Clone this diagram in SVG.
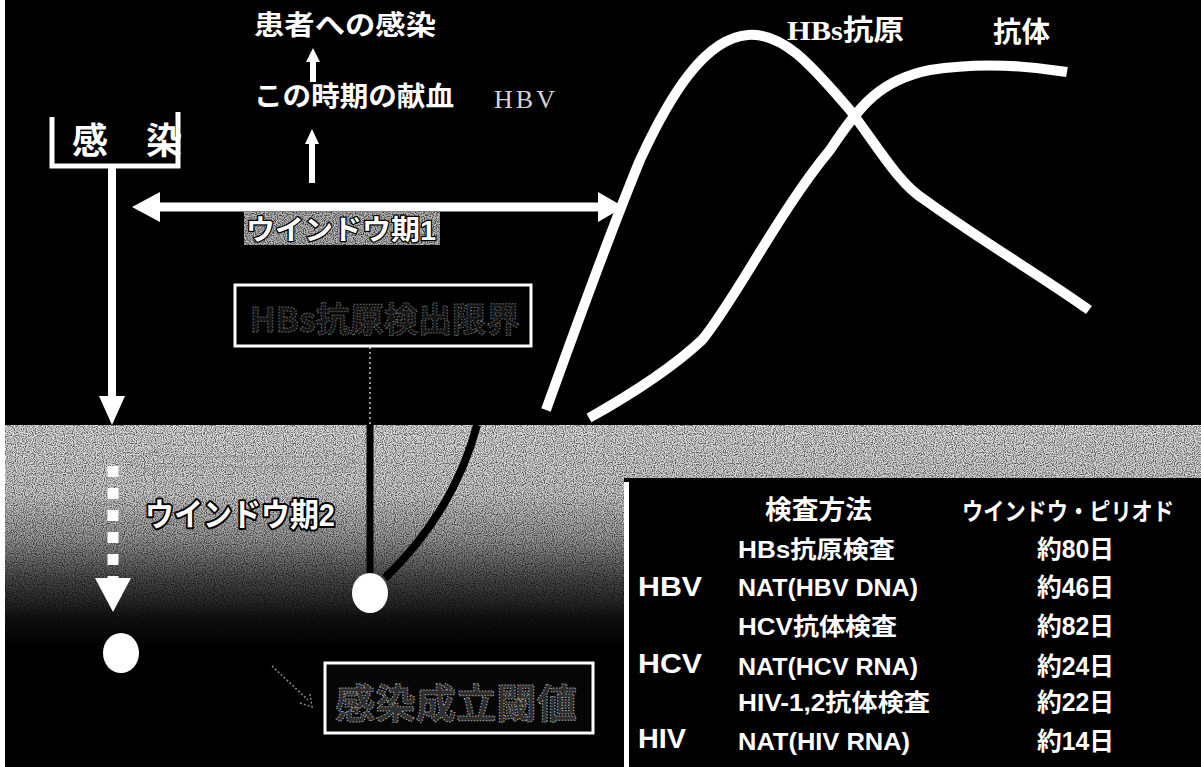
<svg xmlns="http://www.w3.org/2000/svg" width="1201" height="767" viewBox="0 0 1201 767">
<defs>
<style>
.jp{font-family:"Liberation Sans","Noto Sans CJK JP",sans-serif;font-weight:bold;fill:#fff}
.ser{font-family:"Liberation Serif","Noto Sans CJK JP",serif}
.curve{fill:none;stroke:#fff;stroke-width:10;stroke-linecap:butt}
.wline{stroke:#fff;fill:none}
.outl{paint-order:stroke;stroke:#000;stroke-linejoin:round}
.faint{fill:none;stroke:#8a8a8a;stroke-width:1.5;stroke-dasharray:2 2}
.ghost{font-family:"Noto Sans CJK JP",sans-serif;font-weight:bold;stroke-width:1;stroke-dasharray:1.5 1.5}
</style>
<linearGradient id="band" x1="0" y1="425" x2="0" y2="767" gradientUnits="userSpaceOnUse">
<stop offset="0" stop-color="#dedede"/>
<stop offset="0.2" stop-color="#cfcfcf"/>
<stop offset="0.33" stop-color="#9a9a9a"/>
<stop offset="0.45" stop-color="#4a4a4a"/>
<stop offset="0.56" stop-color="#141414"/>
<stop offset="0.66" stop-color="#000"/>
<stop offset="1" stop-color="#000"/>
</linearGradient>
<filter id="noise" x="0" y="0" width="100%" height="100%">
<feTurbulence type="fractalNoise" baseFrequency="0.9" numOctaves="1" seed="4" result="t"/>
<feColorMatrix in="t" type="matrix" values="0 0 0 0 0  0 0 0 0 0  0 0 0 0 0  3.2 0 0 0 -1.3"/>
</filter>
</defs>

<!-- background -->
<rect x="0" y="0" width="1201" height="767" fill="#000"/>
<rect x="5" y="425" width="1196" height="342" fill="url(#band)"/>
<rect x="5" y="425" width="1196" height="342" filter="url(#noise)" opacity="0.6"/>
<rect x="624" y="478" width="577" height="289" fill="#000"/>
<line x1="626.5" y1="482" x2="626.5" y2="767" stroke="#fff" stroke-width="5"/>
<rect x="0" y="0" width="5" height="767" fill="#fff"/>

<!-- connectors -->
<g id="connectors">
  <path class="curve" d="M546,410 C575,330 605,245 640,160 C670,95 705,38 748,35 C785,32 815,70 850,110 C880,150 900,185 925,200 C980,240 1040,275 1089,310"/>
  <path class="curve" d="M589,418 C630,395 670,370 702,340 C735,300 780,210 830,150 C860,105 880,80 930,70 C980,62 1030,66 1067,72"/>
  <polyline class="wline" stroke-width="5" points="52,117 52,166 178,166 178,112"/>
  <line class="wline" x1="112" y1="168" x2="112" y2="398" stroke-width="8"/>
  <polygon points="99,396 125,396 112,425" fill="#fff"/>
  <line class="wline" x1="313" y1="82" x2="313" y2="60" stroke-width="6"/>
  <polygon points="306,62 320,62 313,48" fill="#fff"/>
  <line class="wline" x1="312" y1="183" x2="312" y2="142" stroke-width="6"/>
  <polygon points="305,144 319,144 312,129" fill="#fff"/>
  <line class="wline" x1="158" y1="207" x2="600" y2="207" stroke-width="9"/>
  <polygon points="132,207 160,192 160,222" fill="#fff"/>
  <polygon points="624,207 598,192 598,222" fill="#fff"/>
  <line x1="370" y1="347" x2="370" y2="425" stroke="#9a9a9a" stroke-width="2" stroke-dasharray="2 3"/>
  <line x1="370" y1="425" x2="370" y2="578" stroke="#000" stroke-width="7"/>
  <path d="M477,425 C465,470 440,525 385,578" fill="none" stroke="#000" stroke-width="8"/>
  <path class="faint" d="M130,462 L158,450 L158,457 L328,457 L328,450 L356,462 L328,474 L328,467 L158,467 L158,474 Z"/>
  <line x1="113" y1="466" x2="113" y2="578" stroke="#fff" stroke-width="11" stroke-dasharray="11 11"/>
  <polygon points="95,578 131,578 113,612" fill="#fff"/>
  <path class="faint" d="M272,666 L308,700 M300,703 L312,707 L310,694"/>
</g>

<!-- nodes -->
<g id="patient-infection">
  <text class="jp" x="254" y="35" font-size="27" textLength="182" lengthAdjust="spacingAndGlyphs">患者への感染</text>
</g>
<g id="donation">
  <text class="jp" x="254" y="106" font-size="27" textLength="200" lengthAdjust="spacingAndGlyphs">この時期の献血</text>
</g>
<g id="hbv-label">
  <text class="ser" x="494" y="108" font-size="26" fill="#d4d4d4" textLength="61" lengthAdjust="spacing">HBV</text>
</g>
<g id="infection">
  <text class="jp" x="72" y="154" font-size="36" textLength="110" lengthAdjust="spacing" xml:space="preserve">感 染</text>
</g>
<g id="window1">
  <rect x="244" y="212" width="196" height="33" fill="#b8b8b8"/>
  <rect x="244" y="212" width="196" height="33" filter="url(#noise)" opacity="0.7"/>
  <text class="jp outl" x="246" y="240" font-size="28" stroke-width="2.5" textLength="190" lengthAdjust="spacingAndGlyphs">ウインドウ期1</text>
</g>
<g id="detection-limit">
  <rect x="235" y="285" width="296" height="61" fill="#000" stroke="#fff" stroke-width="3"/>
  <text class="ghost" x="250" y="332" font-size="34" fill="#141414" stroke="#707070" textLength="270" lengthAdjust="spacingAndGlyphs">HBs抗原検出限界</text>
</g>
<g id="hbs-antigen">
  <text class="ser" x="787" y="40" font-size="28" font-weight="bold" fill="#fff" textLength="117" lengthAdjust="spacingAndGlyphs">HBs抗原</text>
</g>
<g id="antibody">
  <text class="jp" x="993" y="42" font-size="28" textLength="57" lengthAdjust="spacingAndGlyphs">抗体</text>
</g>
<g id="window2">
  <text class="jp outl" x="145" y="526" font-size="32" stroke-width="4" textLength="190" lengthAdjust="spacingAndGlyphs">ウインドウ期2</text>
</g>
<g id="point-detect">
  <ellipse cx="370" cy="593" rx="18" ry="20" fill="#fff"/>
</g>
<g id="point-infect">
  <ellipse cx="121" cy="653" rx="18" ry="20" fill="#fff"/>
</g>
<g id="threshold">
  <rect x="325" y="663" width="268" height="70" fill="#060606" stroke="#fff" stroke-width="3"/>
  <text class="ghost" x="335" y="718" font-size="40" fill="#2e2e2e" stroke="#a8a8a8" textLength="242" lengthAdjust="spacingAndGlyphs">感染成立閾値</text>
</g>
<g id="table">
  <text class="jp" x="765" y="519" font-size="26" textLength="107" lengthAdjust="spacingAndGlyphs">検査方法</text>
  <text class="jp" x="962" y="520" font-size="24" textLength="212" lengthAdjust="spacingAndGlyphs">ウインドウ・ピリオド</text>
  <text class="jp" x="638" y="596" font-size="28" textLength="64" lengthAdjust="spacingAndGlyphs">HBV</text>
  <text class="jp" x="638" y="673" font-size="28" textLength="64" lengthAdjust="spacingAndGlyphs">HCV</text>
  <text class="jp" x="638" y="748" font-size="28" textLength="48" lengthAdjust="spacingAndGlyphs">HIV</text>
  <text class="jp" x="738" y="558" font-size="24" textLength="157" lengthAdjust="spacingAndGlyphs">HBs抗原検査</text>
  <text class="jp" x="738" y="596" font-size="24" textLength="180" lengthAdjust="spacingAndGlyphs">NAT(HBV DNA)</text>
  <text class="jp" x="738" y="635" font-size="24" textLength="159" lengthAdjust="spacingAndGlyphs">HCV抗体検査</text>
  <text class="jp" x="738" y="675" font-size="24" textLength="180" lengthAdjust="spacingAndGlyphs">NAT(HCV RNA)</text>
  <text class="jp" x="738" y="711" font-size="24" textLength="192" lengthAdjust="spacingAndGlyphs">HIV-1,2抗体検査</text>
  <text class="jp" x="738" y="750" font-size="24" textLength="172" lengthAdjust="spacingAndGlyphs">NAT(HIV RNA)</text>
  <text class="jp" x="1037" y="558" font-size="25" textLength="77" lengthAdjust="spacingAndGlyphs">約80日</text>
  <text class="jp" x="1037" y="596" font-size="25" textLength="77" lengthAdjust="spacingAndGlyphs">約46日</text>
  <text class="jp" x="1037" y="635" font-size="25" textLength="77" lengthAdjust="spacingAndGlyphs">約82日</text>
  <text class="jp" x="1037" y="675" font-size="25" textLength="77" lengthAdjust="spacingAndGlyphs">約24日</text>
  <text class="jp" x="1037" y="711" font-size="25" textLength="77" lengthAdjust="spacingAndGlyphs">約22日</text>
  <text class="jp" x="1037" y="750" font-size="25" textLength="77" lengthAdjust="spacingAndGlyphs">約14日</text>
</g>
</svg>
